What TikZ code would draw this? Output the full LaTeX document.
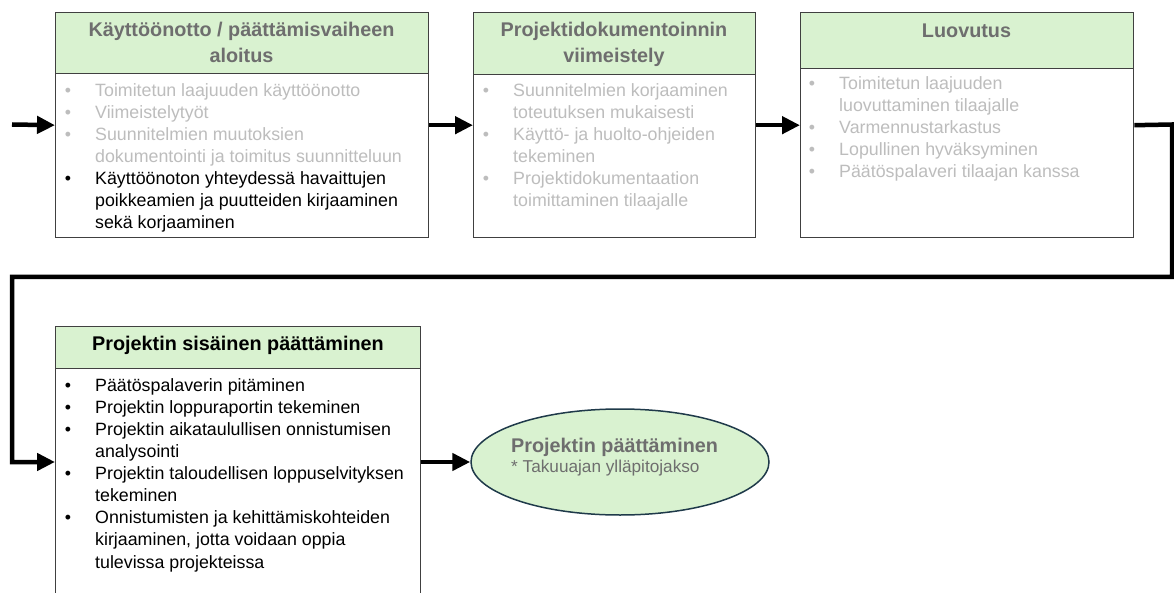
\documentclass[tikz,border=0pt]{standalone}
\usepackage{fontspec}
\setmainfont{Liberation Sans}
\usetikzlibrary{arrows.meta,shapes.geometric}
\definecolor{hdrgreen}{HTML}{D9F2D0}
\definecolor{frame}{HTML}{404040}
\definecolor{dimtext}{HTML}{BDBDBD}
\definecolor{headgray}{HTML}{6E6E6E}
\definecolor{ovalline}{HTML}{1F3A4A}
% bullets placed left of the item text (grey and black)
\newcommand\itm{\makebox[0pt][r]{\textcolor{dimtext}{\textbullet}\hspace{24pt}}}
\newcommand\itmk{\makebox[0pt][r]{\textcolor{black}{\textbullet}\hspace{24pt}}}
% fixed height of the first line, so the node top sits at a known distance above the baseline
\newcommand\lstrut{\rule{0pt}{18pt}}
\newcommand\hstrut{\rule{0pt}{20pt}}
\begin{document}
\begin{tikzpicture}[x=1pt,y=-1pt,
  box/.style={draw=frame,line width=1.4pt,fill=white,anchor=north west,inner sep=0pt},
  header/.style={draw=frame,line width=1.4pt,fill=hdrgreen,anchor=north west,inner sep=0pt},
  htext/.style={font=\fontsize{19.8}{25.7}\selectfont\bfseries,align=center,anchor=north,inner sep=0pt,text=headgray},
  list/.style={font=\fontsize{17.8}{22.1}\selectfont,align=left,anchor=north west,inner sep=0pt,text=dimtext},
  flow/.style={line width=4.5pt,line join=miter,-{Triangle[length=18pt,width=17pt]}}]
\useasboundingbox (0,0) rectangle (1174,593);
\clip (0,0) rectangle (1174,593);

% phase boxes with green title bands
\node[box,minimum width=373pt,minimum height=225pt] (b1) at (55,12) {};
\node[header,minimum width=373pt,minimum height=61pt] (h1) at (55,12) {};
\node[box,minimum width=282pt,minimum height=225pt] (b2) at (473,12) {};
\node[header,minimum width=282pt,minimum height=62pt] (h2) at (473,12) {};
\node[box,minimum width=333pt,minimum height=225pt] (b3) at (800,12) {};
\node[header,minimum width=333pt,minimum height=56pt] (h3) at (800,12) {};
\node[box,minimum width=365pt,minimum height=300pt] (b4) at (55,326) {};
\node[header,minimum width=365pt,minimum height=42pt] (h4) at (55,326) {};

% titles
\node[htext] (ht1) at (241.5,16.5) {\hstrut Käyttöönotto / päättämisvaiheen\\aloitus};
\node[htext] (ht2) at (614,16.5) {\hstrut Projektidokumentoinnin\\viimeistely};
\node[htext] (ht3) at (966.5,17) {\hstrut Luovutus};
\node[htext,text=black] (ht4) at (238,330) {\hstrut Projektin sisäinen päättäminen};

% item lists
\node[list] (t1) at (95,78) {%
  \lstrut\itm Toimitetun laajuuden käyttöönotto\\
  \itm Viimeistelytyöt\\
  \itm Suunnitelmien muutoksien\\
  dokumentointi ja toimitus suunnitteluun\\
  \itmk\textcolor{black}{Käyttöönoton yhteydessä havaittujen}\\
  \textcolor{black}{poikkeamien ja puutteiden kirjaaminen}\\
  \textcolor{black}{sekä korjaaminen}};
\node[list] (t2) at (513,78) {%
  \lstrut\itm Suunnitelmien korjaaminen\\
  toteutuksen mukaisesti\\
  \itm Käyttö- ja huolto-ohjeiden\\
  tekeminen\\
  \itm Projektidokumentaation\\
  toimittaminen tilaajalle};
\node[list] (t3) at (839,71) {%
  \lstrut\itm Toimitetun laajuuden\\
  luovuttaminen tilaajalle\\
  \itm Varmennustarkastus\\
  \itm Lopullinen hyväksyminen\\
  \itm Päätöspalaveri tilaajan kanssa};
\node[list,text=black] (t4) at (95,373) {%
  \lstrut\itmk Päätöspalaverin pitäminen\\
  \itmk Projektin loppuraportin tekeminen\\
  \itmk Projektin aikataulullisen onnistumisen\\
  analysointi\\
  \itmk Projektin taloudellisen loppuselvityksen\\
  tekeminen\\
  \itmk Onnistumisten ja kehittämiskohteiden\\
  kirjaaminen, jotta voidaan oppia\\
  tulevissa projekteissa};

% closing oval
\node[ellipse,draw=ovalline,line width=1.5pt,fill=hdrgreen,minimum width=298pt,minimum height=106pt,inner sep=0pt] (e) at (620,462) {};
\node[align=left,anchor=north west,inner sep=0pt,text=headgray] (et) at (511,432)
  {{\fontsize{19.8}{24}\selectfont\bfseries\hstrut Projektin päättäminen}\\[3pt]
   {\fontsize{17.2}{24}\selectfont * Takuuajan ylläpitojakso}};

% flow connectors
\coordinate (start) at (12,124.5);
\coordinate (c1) at (1172,124.5);
\coordinate (c2) at (1172,277);
\coordinate (c3) at (12,277);
\coordinate (c4) at (12,462);
\draw[flow] (start) -- (b1.west);
\draw[flow] (b1.east) -- (b2.west);
\draw[flow] (b2.east) -- (b3.west);
\draw[flow] (b3.east) -- (c1) -- (c2) -- (c3) -- (c4) -- (b4.west |- c4);
\draw[flow] (b4.east |- e.west) -- (e.west);
\end{tikzpicture}
\end{document}
